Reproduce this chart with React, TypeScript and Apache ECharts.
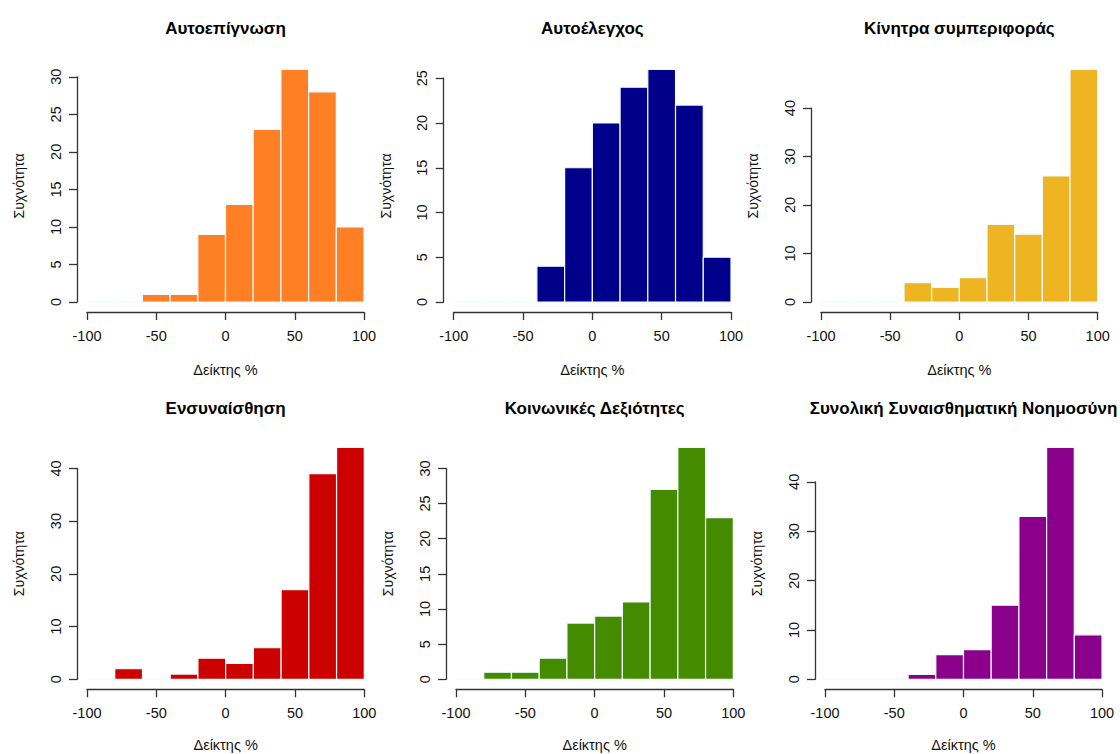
import React, { useEffect, useRef } from "react";
import * as echarts from "echarts";

const binStarts = [-100, -80, -60, -40, -20, 0, 20, 40, 60, 80];
const binWidth = 20;

const titles = [
  "Αυτοεπίγνωση",
  "Αυτοέλεγχος",
  "Κίνητρα συμπεριφοράς",
  "Ενσυναίσθηση",
  "Κοινωνικές Δεξιότητες",
  "Συνολική Συναισθηματική Νοημοσύνη",
];

const selfAwareness = [0, 0, 1, 1, 9, 13, 23, 31, 28, 10];
const selfControl = [0, 0, 0, 4, 15, 20, 24, 26, 22, 5];
const motivation = [0, 0, 0, 4, 3, 5, 16, 14, 26, 48];
const empathy = [0, 2, 0, 1, 4, 3, 6, 17, 39, 44];
const socialSkills = [0, 1, 1, 3, 8, 9, 11, 27, 33, 23];
const totalEI = [0, 0, 0, 1, 5, 6, 15, 33, 47, 9];

const seriesValues = [selfAwareness, selfControl, motivation, empathy, socialSkills, totalEI];
const colors = ["#FF7F24", "#00008B", "#EEB422", "#CD0000", "#458B00", "#8B008B"];
const yTickStep = [5, 5, 10, 10, 5, 10];
const xTicks = { min: -100, max: 100, step: 50 };

const xLabel = "Δείκτης %";
const yLabel = "Συχνότητα";

// layout (pixels)
const colX = [
  [[87, 364], [453.7, 731], [821, 1097.7]],
  [[87, 364.3], [456, 733.3], [825, 1102]],
];
const rowZero = [302, 679.3];
const rowMaxTop = [69.3, 447.3];
const titleY = [28, 408];
const xNameY = [370, 745];
const FONT = "'Liberation Sans', Arial, sans-serif";

export default function App() {
  const ref = useRef<HTMLDivElement>(null);
  useEffect(() => {
    document.body.style.margin = "0";
    const chart = echarts.init(ref.current!, null, { renderer: "svg" });
    const grids: any[] = [];
    const xAxes: any[] = [];
    const yAxes: any[] = [];
    const series: any[] = [];
    const graphics: any[] = [];
    for (let i = 0; i < 6; i++) {
      const row = Math.floor(i / 3);
      const col = i % 3;
      const vals = seriesValues[i];
      const ymax = Math.max(...vals);
      const step = yTickStep[i];
      const topTick = Math.floor(ymax / step) * step;
      const [xl, xr] = colX[row][col];
      const y0 = rowZero[row];
      const pxPerUnit = (y0 - rowMaxTop[row]) / ymax;
      const top = y0 - topTick * pxPerUnit;
      grids.push({ left: xl, top, width: xr - xl, height: y0 - top });
      xAxes.push({
        type: "value",
        gridIndex: i,
        min: xTicks.min,
        max: xTicks.max,
        interval: xTicks.step,
        offset: 10,
        axisLine: { show: true, onZero: false, lineStyle: { color: "#333", width: 1.3 } },
        axisTick: { show: true, length: 8, lineStyle: { color: "#333", width: 1.3 } },
        axisLabel: { color: "#111", fontSize: 14.5, fontFamily: FONT, margin: 16 },
        splitLine: { show: false },
      });
      yAxes.push({
        type: "value",
        gridIndex: i,
        min: 0,
        max: topTick,
        interval: step,
        offset: 10,
        axisLine: { show: true, onZero: false, lineStyle: { color: "#333", width: 1.3 } },
        axisTick: { show: true, length: 8, lineStyle: { color: "#333", width: 1.3 } },
        axisLabel: { color: "#111", fontSize: 14.5, fontFamily: FONT, rotate: 90, margin: 14 },
        splitLine: { show: false },
      });
      const data = binStarts.map((b, k) => [b, b + binWidth, vals[k]]);
      const color = colors[i];
      series.push({
        type: "custom",
        xAxisIndex: i,
        yAxisIndex: i,
        data,
        encode: { x: [0, 1], y: 2 },
        renderItem: (params: any, api: any) => {
          const p0 = api.coord([api.value(0), 0]);
          const p1 = api.coord([api.value(1), api.value(2)]);
          return {
            type: "rect",
            shape: { x: p0[0], y: p1[1], width: p1[0] - p0[0], height: p0[1] - p1[1] },
            style: { fill: color, stroke: "#F0FBFF", lineWidth: 1.2 },
          };
        },
      });
      const cx = (xl + xr) / 2;
      const xAxisLineY = y0 + 10;
      const regionTop = rowMaxTop[row] - 0.04 * ymax * pxPerUnit;
      graphics.push({
        type: "text",
        x: cx,
        y: titleY[row],
        style: {
          text: titles[i],
          font: `bold 17px ${FONT}`,
          fill: "#000",
          align: "center",
          verticalAlign: "middle",
        },
      });
      graphics.push({
        type: "text",
        x: cx,
        y: xNameY[row],
        style: {
          text: xLabel,
          font: `14.5px ${FONT}`,
          fill: "#111",
          align: "center",
          verticalAlign: "middle",
        },
      });
      graphics.push({
        type: "text",
        x: xl - 10 - 58,
        y: (xAxisLineY + regionTop) / 2,
        rotation: Math.PI / 2,
        style: {
          text: yLabel,
          font: `14px ${FONT}`,
          fill: "#111",
          align: "center",
          verticalAlign: "middle",
        },
      });
    }
    chart.setOption({
      animation: false,
      backgroundColor: "#fff",
      grid: grids,
      xAxis: xAxes,
      yAxis: yAxes,
      series,
      graphic: graphics,
    });
    return () => chart.dispose();
  }, []);
  return <div ref={ref} style={{ width: 1120, height: 754 }} />;
}
